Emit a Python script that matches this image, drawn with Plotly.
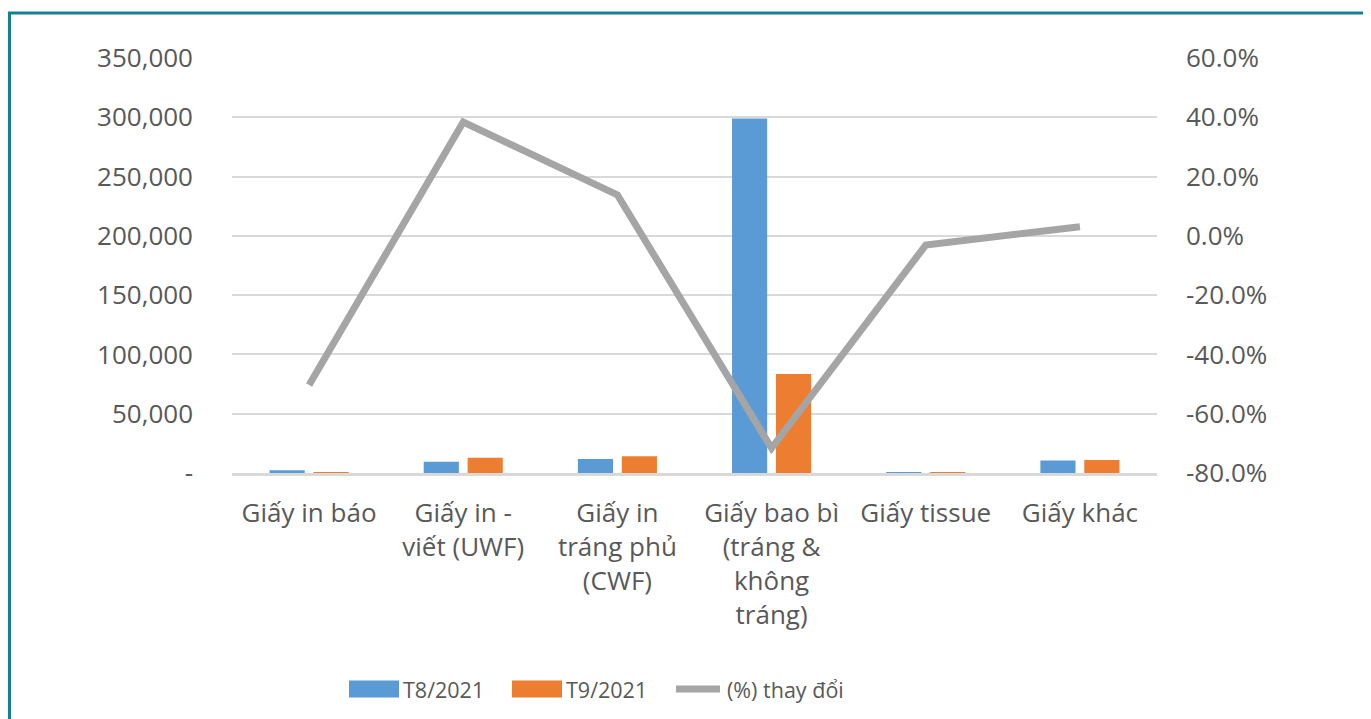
import plotly.graph_objects as go

categories = ["Giấy in báo", "Giấy in -<br>viết (UWF)", "Giấy in<br>tráng phủ<br>(CWF)",
              "Giấy bao bì<br>(tráng &<br>không<br>tráng)", "Giấy tissue", "Giấy khác"]
t8_2021 = [2300, 9500, 11800, 299000, 150, 10600]
t9_2021 = [800, 12900, 14100, 83500, 145, 11000]
pct_change = [-50.3, 38.4, 13.8, -71.6, -3.1, 3.1]

left_ticks = [0, 50000, 100000, 150000, 200000, 250000, 300000, 350000]
left_ticktext = ["-", "50,000", "100,000", "150,000", "200,000", "250,000", "300,000", "350,000"]
right_ticks = [-80, -60, -40, -20, 0, 20, 40, 60]
right_ticktext = ["-80.0%", "-60.0%", "-40.0%", "-20.0%", "0.0%", "20.0%", "40.0%", "60.0%"]

OFF = 8  # page body margin
W, H = 1371 - OFF, 719 - OFF
L, R, T, B = 232, 1157, 58, 473  # screen coordinates of plot area
PW, PH = R - L, B - T
FONT = "Open Sans"
FS = 26
LFS = 21.5
TXT = "#595959"
BLUE = "#5B9BD5"
ORANGE = "#ED7D31"
GRAY = "#A5A5A5"


def px(x):
    return (x - L) / PW


def py(y):
    return (B - y) / PH


fig = go.Figure()
fig.add_trace(go.Bar(x=categories, y=t8_2021, name="T8/2021", marker=dict(color=BLUE, line=dict(width=0)),
                     showlegend=False))
fig.add_trace(go.Bar(x=categories, y=t9_2021, name="T9/2021", marker=dict(color=ORANGE, line=dict(width=0)),
                     showlegend=False))
fig.add_trace(go.Scatter(x=categories, y=pct_change, name="(%) thay đổi", mode="lines", yaxis="y2",
                         line=dict(color=GRAY, width=7), showlegend=False))

shapes = []
annotations = []
# outer teal border
shapes.append(dict(type="rect", xref="paper", yref="paper", x0=px(9.5), x1=px(1366), y0=py(13), y1=py(740),
                   line=dict(color="#16808F", width=3), fillcolor="rgba(0,0,0,0)", layer="below"))

# custom legend
leg_y = 689
items = [(349, 399, "bar", BLUE, "T8/2021"), (512, 562, "bar", ORANGE, "T9/2021"),
         (673, 723, "line", GRAY, "(%) thay đổi")]
for x0, x1, kind, col, label in items:
    if kind == "bar":
        shapes.append(dict(type="rect", xref="paper", yref="paper", x0=px(x0), x1=px(x1),
                           y0=py(leg_y + 8.5), y1=py(leg_y - 8.5), fillcolor=col, line=dict(width=0)))
    else:
        shapes.append(dict(type="line", xref="paper", yref="paper", x0=px(x0 + 3), x1=px(x1 - 3),
                           y0=py(leg_y), y1=py(leg_y), line=dict(color=col, width=7)))
    annotations.append(dict(xref="paper", yref="paper", x=px(x1 + 2), y=py(leg_y), text=label,
                            showarrow=False, xanchor="left", yanchor="middle",
                            font=dict(family=FONT, size=LFS, color=TXT)))

fig.update_layout(
    width=W, height=H,
    margin=dict(l=L - OFF, r=W - (R - OFF), t=T - OFF, b=H - (B - OFF), pad=0),
    paper_bgcolor="white", plot_bgcolor="white",
    barmode="group", bargap=0.43, bargroupgap=0.2,
    font=dict(family=FONT, size=FS, color=TXT),
    xaxis=dict(showgrid=False, showline=True, linecolor="#D9D9D9", linewidth=3,
               tickfont=dict(family=FONT, size=FS, color=TXT), ticks="", ticklabelstandoff=15),
    yaxis=dict(range=[0, 350000], tickvals=left_ticks, ticktext=left_ticktext, showgrid=True,
               gridcolor="#D9D9D9", gridwidth=2, zeroline=False, showline=False, ticks="",
               ticklabelstandoff=38, tickfont=dict(family=FONT, size=FS, color=TXT)),
    yaxis2=dict(range=[-80, 60], tickvals=right_ticks, ticktext=right_ticktext, overlaying="y",
                side="right", showgrid=False, zeroline=False, showline=False, ticks="",
                ticklabelstandoff=28, tickfont=dict(family=FONT, size=FS, color=TXT)),
    shapes=shapes, annotations=annotations, showlegend=False,
)

fig.write_html("out.html")
